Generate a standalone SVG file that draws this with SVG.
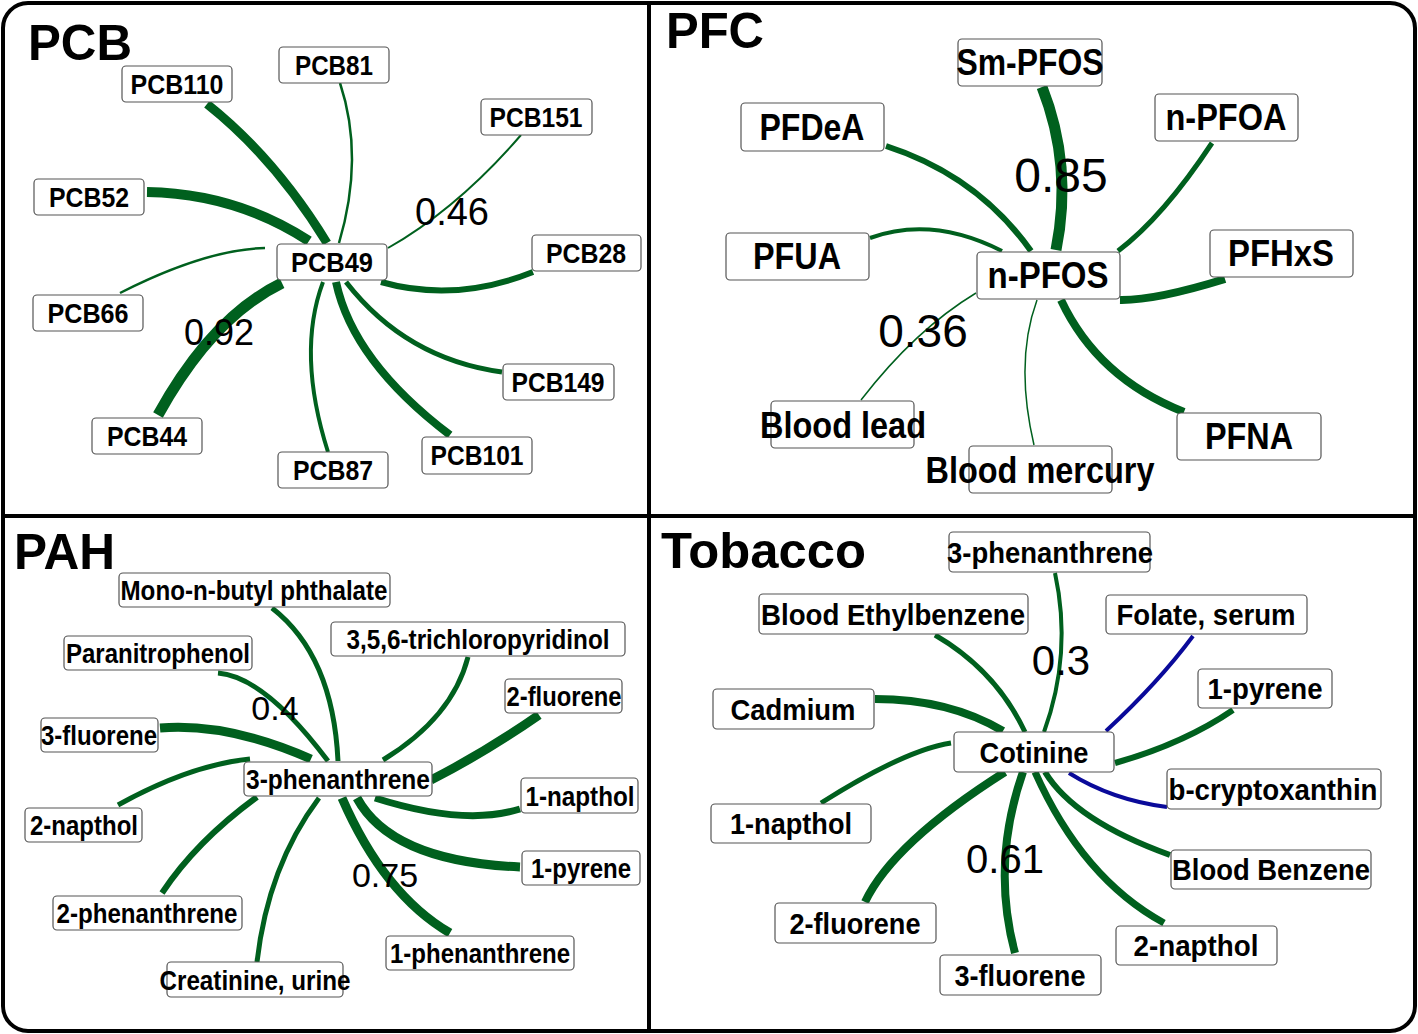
<svg xmlns="http://www.w3.org/2000/svg" width="1418" height="1034" viewBox="0 0 1418 1034">
<style>
.bx{fill:#fff;stroke:#555;stroke-width:1.2}
.t{font-family:"Liberation Sans Narrow","Arial Narrow","Liberation Sans",Arial,sans-serif;font-weight:bold;text-anchor:middle;fill:#000}
.t1{font-size:28px}.t2{font-size:36px}.t3{font-size:27px}.t4{font-size:30px}
.ttl{font-family:"Liberation Sans",Arial,sans-serif;font-weight:bold;font-size:50px;fill:#000}
.lb{font-family:"Liberation Sans",Arial,sans-serif;font-weight:normal;text-anchor:middle;fill:#000}
.e{fill:none;stroke:#00601e}
.b{fill:none;stroke:#0a0a9a}
</style>
<rect x="3" y="3" width="1412" height="1028" rx="25" fill="#fff" stroke="#000" stroke-width="4"/>
<line x1="649" y1="3" x2="649" y2="1031" stroke="#000" stroke-width="4"/>
<line x1="3" y1="516" x2="1415" y2="516" stroke="#000" stroke-width="4"/>
<text class="ttl" x="28" y="60" textLength="104" lengthAdjust="spacingAndGlyphs">PCB</text>
<text class="ttl" x="666" y="48" textLength="98" lengthAdjust="spacingAndGlyphs">PFC</text>
<text class="ttl" x="14" y="569" textLength="101" lengthAdjust="spacingAndGlyphs">PAH</text>
<text class="ttl" x="661" y="568" textLength="205" lengthAdjust="spacingAndGlyphs">Tobacco</text>
<g id="connectors">
<path class="e" stroke-width="9" d="M207,104 Q275,158 327,243"/>
<path class="e" stroke-width="2.5" d="M340,83 Q364.5,157 339,243"/>
<path class="e" stroke-width="2" d="M521,135 Q457.5,208.5 388,248"/>
<path class="e" stroke-width="10" d="M147,192 Q236,193.5 309,241"/>
<path class="e" stroke-width="2.5" d="M120,293 Q205.5,249.5 265,248"/>
<path class="e" stroke-width="6" d="M533,272 Q455,303 381,282"/>
<path class="e" stroke-width="11" d="M158,415 Q212,317 282,283"/>
<path class="e" stroke-width="4" d="M328,452 Q296.5,353 323,282"/>
<path class="e" stroke-width="8" d="M450,435 Q353,361.5 336,282"/>
<path class="e" stroke-width="5" d="M502,372 Q406,359 346,282"/>
<path class="e" stroke-width="11" d="M1042,87 Q1073,165.5 1056,250"/>
<path class="e" stroke-width="6" d="M886,146 Q977.5,175.5 1031,251"/>
<path class="e" stroke-width="5" d="M1212,143 Q1163,217 1118,251"/>
<path class="e" stroke-width="4" d="M870,238 Q932,215.5 1002,251"/>
<path class="e" stroke-width="8" d="M1225,279 Q1155.5,300.5 1120,300"/>
<path class="e" stroke-width="1.5" d="M861,400 Q915.5,329.5 976,293"/>
<path class="e" stroke-width="1.5" d="M1034,445 Q1014.5,361.5 1037,300"/>
<path class="e" stroke-width="8" d="M1184,412 Q1097.5,378 1061,300"/>
<path class="e" stroke-width="5" d="M272,608 Q333,655.5 338,761"/>
<path class="e" stroke-width="5" d="M218,673 Q265,677 328,761"/>
<path class="e" stroke-width="5" d="M468,657 Q452.5,717.5 383,760"/>
<path class="e" stroke-width="9" d="M539,715 Q485,752.5 431,780"/>
<path class="e" stroke-width="9" d="M160,728 Q228.5,722.5 311,759"/>
<path class="e" stroke-width="5" d="M118,805 Q190,765 250,759"/>
<path class="e" stroke-width="6" d="M162,893 Q196.5,841 257,797"/>
<path class="e" stroke-width="5" d="M257,962 Q268,866 319,798"/>
<path class="e" stroke-width="9" d="M450,933 Q384,894.5 342,798"/>
<path class="e" stroke-width="9" d="M520,867 Q391.5,861.5 357,798"/>
<path class="e" stroke-width="7" d="M520,809 Q464.5,826.5 375,798"/>
<path class="e" stroke-width="4" d="M1055,573 Q1072.5,653.5 1044,732"/>
<path class="e" stroke-width="5" d="M935,635 Q996,670.5 1025,732"/>
<path class="b" stroke-width="4" d="M1193,636 Q1158.5,682.5 1106,731"/>
<path class="e" stroke-width="6" d="M1233,710 Q1184,743.5 1115,763"/>
<path class="e" stroke-width="8" d="M875,699 Q949,699 1003,731"/>
<path class="e" stroke-width="5" d="M821,803 Q905,750 951,743"/>
<path class="b" stroke-width="4" d="M1167,807 Q1112,800 1069,773"/>
<path class="e" stroke-width="6" d="M1170,855 Q1074.5,820.5 1045,772"/>
<path class="e" stroke-width="7" d="M1164,923 Q1082.5,878.5 1035,772"/>
<path class="e" stroke-width="8" d="M1015,953 Q991,863.5 1023,772"/>
<path class="e" stroke-width="8" d="M865,902 Q893,843 1005,772"/>
</g>
<g id="pcb49"><rect class="bx" x="277" y="244" width="110" height="36" rx="4"/><text class="t t1" x="332" y="272" textLength="82" lengthAdjust="spacingAndGlyphs">PCB49</text></g>
<g id="pcb110"><rect class="bx" x="122" y="66" width="110" height="36" rx="4"/><text class="t t1" x="177" y="94" textLength="93" lengthAdjust="spacingAndGlyphs">PCB110</text></g>
<g id="pcb81"><rect class="bx" x="279" y="47" width="110" height="36" rx="4"/><text class="t t1" x="334" y="75" textLength="78" lengthAdjust="spacingAndGlyphs">PCB81</text></g>
<g id="pcb151"><rect class="bx" x="481" y="99" width="111" height="36" rx="4"/><text class="t t1" x="536" y="127" textLength="93" lengthAdjust="spacingAndGlyphs">PCB151</text></g>
<g id="pcb52"><rect class="bx" x="34" y="179" width="110" height="36" rx="4"/><text class="t t1" x="89" y="207" textLength="80" lengthAdjust="spacingAndGlyphs">PCB52</text></g>
<g id="pcb28"><rect class="bx" x="532" y="235" width="109" height="36" rx="4"/><text class="t t1" x="586" y="263" textLength="80" lengthAdjust="spacingAndGlyphs">PCB28</text></g>
<g id="pcb66"><rect class="bx" x="33" y="295" width="110" height="36" rx="4"/><text class="t t1" x="88" y="323" textLength="81" lengthAdjust="spacingAndGlyphs">PCB66</text></g>
<g id="pcb44"><rect class="bx" x="92" y="418" width="110" height="36" rx="4"/><text class="t t1" x="147" y="446" textLength="80" lengthAdjust="spacingAndGlyphs">PCB44</text></g>
<g id="pcb87"><rect class="bx" x="278" y="452" width="110" height="36" rx="4"/><text class="t t1" x="333" y="480" textLength="80" lengthAdjust="spacingAndGlyphs">PCB87</text></g>
<g id="pcb101"><rect class="bx" x="422" y="437" width="110" height="37" rx="4"/><text class="t t1" x="477" y="465" textLength="93" lengthAdjust="spacingAndGlyphs">PCB101</text></g>
<g id="pcb149"><rect class="bx" x="503" y="364" width="111" height="36" rx="4"/><text class="t t1" x="558" y="392" textLength="93" lengthAdjust="spacingAndGlyphs">PCB149</text></g>
<g id="npfos"><rect class="bx" x="977" y="252" width="143" height="47" rx="4"/><text class="t t2" x="1048" y="288" textLength="121" lengthAdjust="spacingAndGlyphs">n-PFOS</text></g>
<g id="smpfos"><rect class="bx" x="958" y="39" width="144" height="47" rx="4"/><text class="t t2" x="1030" y="75" textLength="147" lengthAdjust="spacingAndGlyphs">Sm-PFOS</text></g>
<g id="pfdea"><rect class="bx" x="741" y="103" width="143" height="48" rx="4"/><text class="t t2" x="812" y="140" textLength="105" lengthAdjust="spacingAndGlyphs">PFDeA</text></g>
<g id="npfoa"><rect class="bx" x="1155" y="94" width="143" height="47" rx="4"/><text class="t t2" x="1226" y="130" textLength="121" lengthAdjust="spacingAndGlyphs">n-PFOA</text></g>
<g id="pfua"><rect class="bx" x="726" y="233" width="143" height="47" rx="4"/><text class="t t2" x="797" y="269" textLength="88" lengthAdjust="spacingAndGlyphs">PFUA</text></g>
<g id="pfhxs"><rect class="bx" x="1210" y="230" width="143" height="47" rx="4"/><text class="t t2" x="1281" y="266" textLength="106" lengthAdjust="spacingAndGlyphs">PFHxS</text></g>
<g id="bloodlead"><rect class="bx" x="771" y="401" width="143" height="47" rx="4"/><text class="t t2" x="843" y="438" textLength="166" lengthAdjust="spacingAndGlyphs">Blood lead</text></g>
<g id="bloodmercury"><rect class="bx" x="969" y="446" width="143" height="47" rx="4"/><text class="t t2" x="1040" y="483" textLength="229" lengthAdjust="spacingAndGlyphs">Blood mercury</text></g>
<g id="pfna"><rect class="bx" x="1177" y="413" width="144" height="47" rx="4"/><text class="t t2" x="1249" y="449" textLength="88" lengthAdjust="spacingAndGlyphs">PFNA</text></g>
<g id="pah-3phen"><rect class="bx" x="244" y="762" width="188" height="34" rx="4"/><text class="t t3" x="338" y="789" textLength="184" lengthAdjust="spacingAndGlyphs">3-phenanthrene</text></g>
<g id="mono"><rect class="bx" x="119" y="573" width="271" height="34" rx="4"/><text class="t t3" x="254" y="600" textLength="267" lengthAdjust="spacingAndGlyphs">Mono-n-butyl phthalate</text></g>
<g id="paranitro"><rect class="bx" x="64" y="636" width="188" height="34" rx="4"/><text class="t t3" x="158" y="663" textLength="184" lengthAdjust="spacingAndGlyphs">Paranitrophenol</text></g>
<g id="tcpy"><rect class="bx" x="331" y="622" width="294" height="34" rx="4"/><text class="t t3" x="478" y="649" textLength="263" lengthAdjust="spacingAndGlyphs">3,5,6-trichloropyridinol</text></g>
<g id="pah-2fluor"><rect class="bx" x="505" y="679" width="117" height="34" rx="4"/><text class="t t3" x="564" y="706" textLength="115" lengthAdjust="spacingAndGlyphs">2-fluorene</text></g>
<g id="pah-3fluor"><rect class="bx" x="41" y="718" width="117" height="34" rx="4"/><text class="t t3" x="99" y="745" textLength="116" lengthAdjust="spacingAndGlyphs">3-fluorene</text></g>
<g id="pah-1napthol"><rect class="bx" x="521" y="778" width="117" height="35" rx="4"/><text class="t t3" x="580" y="806" textLength="109" lengthAdjust="spacingAndGlyphs">1-napthol</text></g>
<g id="pah-2napthol"><rect class="bx" x="25" y="808" width="117" height="34" rx="4"/><text class="t t3" x="84" y="835" textLength="108" lengthAdjust="spacingAndGlyphs">2-napthol</text></g>
<g id="pah-1pyrene"><rect class="bx" x="522" y="851" width="118" height="34" rx="4"/><text class="t t3" x="581" y="878" textLength="100" lengthAdjust="spacingAndGlyphs">1-pyrene</text></g>
<g id="pah-2phen"><rect class="bx" x="53" y="896" width="189" height="34" rx="4"/><text class="t t3" x="147" y="923" textLength="181" lengthAdjust="spacingAndGlyphs">2-phenanthrene</text></g>
<g id="pah-1phen"><rect class="bx" x="386" y="936" width="188" height="34" rx="4"/><text class="t t3" x="480" y="963" textLength="180" lengthAdjust="spacingAndGlyphs">1-phenanthrene</text></g>
<g id="creat"><rect class="bx" x="167" y="962" width="176" height="35" rx="4"/><text class="t t3" x="255" y="990" textLength="191" lengthAdjust="spacingAndGlyphs">Creatinine, urine</text></g>
<g id="cotinine"><rect class="bx" x="954" y="732" width="160" height="40" rx="4"/><text class="t t4" x="1034" y="763" textLength="109" lengthAdjust="spacingAndGlyphs">Cotinine</text></g>
<g id="tob-3phen"><rect class="bx" x="949" y="532" width="201" height="40" rx="4"/><text class="t t4" x="1050" y="563" textLength="206" lengthAdjust="spacingAndGlyphs">3-phenanthrene</text></g>
<g id="ethylbenz"><rect class="bx" x="759" y="594" width="269" height="40" rx="4"/><text class="t t4" x="893" y="625" textLength="264" lengthAdjust="spacingAndGlyphs">Blood Ethylbenzene</text></g>
<g id="folate"><rect class="bx" x="1106" y="595" width="201" height="39" rx="4"/><text class="t t4" x="1206" y="625" textLength="179" lengthAdjust="spacingAndGlyphs">Folate, serum</text></g>
<g id="tob-1pyrene"><rect class="bx" x="1198" y="669" width="134" height="39" rx="4"/><text class="t t4" x="1265" y="699" textLength="115" lengthAdjust="spacingAndGlyphs">1-pyrene</text></g>
<g id="cadmium"><rect class="bx" x="713" y="689" width="161" height="40" rx="4"/><text class="t t4" x="793" y="720" textLength="125" lengthAdjust="spacingAndGlyphs">Cadmium</text></g>
<g id="bcrypto"><rect class="bx" x="1167" y="769" width="214" height="40" rx="4"/><text class="t t4" x="1273" y="800" textLength="209" lengthAdjust="spacingAndGlyphs">b-cryptoxanthin</text></g>
<g id="tob-1napthol"><rect class="bx" x="711" y="804" width="160" height="39" rx="4"/><text class="t t4" x="791" y="834" textLength="122" lengthAdjust="spacingAndGlyphs">1-napthol</text></g>
<g id="bloodbenz"><rect class="bx" x="1171" y="850" width="200" height="39" rx="4"/><text class="t t4" x="1271" y="880" textLength="198" lengthAdjust="spacingAndGlyphs">Blood Benzene</text></g>
<g id="tob-2fluor"><rect class="bx" x="775" y="903" width="161" height="40" rx="4"/><text class="t t4" x="855" y="934" textLength="131" lengthAdjust="spacingAndGlyphs">2-fluorene</text></g>
<g id="tob-2napthol"><rect class="bx" x="1116" y="926" width="161" height="39" rx="4"/><text class="t t4" x="1196" y="956" textLength="125" lengthAdjust="spacingAndGlyphs">2-napthol</text></g>
<g id="tob-3fluor"><rect class="bx" x="940" y="955" width="161" height="40" rx="4"/><text class="t t4" x="1020" y="986" textLength="131" lengthAdjust="spacingAndGlyphs">3-fluorene</text></g>
<g id="labels">
<text class="lb" x="452" y="225" font-size="38">0.46</text>
<text class="lb" x="219" y="345" font-size="36">0.92</text>
<text class="lb" x="1061" y="192" font-size="48">0.85</text>
<text class="lb" x="923" y="347" font-size="46">0.36</text>
<text class="lb" x="275" y="720" font-size="34">0.4</text>
<text class="lb" x="385" y="887" font-size="34">0.75</text>
<text class="lb" x="1061" y="675" font-size="42">0.3</text>
<text class="lb" x="1005" y="873" font-size="40">0.61</text>
</g>
</svg>
